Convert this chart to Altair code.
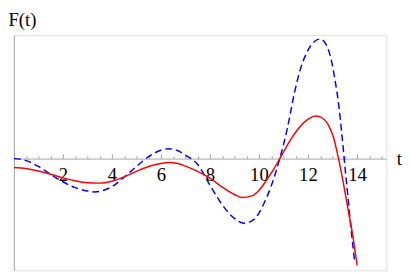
import altair as alt
import pandas as pd

# Solid red curve
t_red = [0, 0.5, 1, 1.5, 2, 2.5, 3, 3.5, 4, 4.5, 5, 5.5, 6, 6.3, 6.7, 7, 7.5, 8,
         8.5, 9, 9.3, 9.7, 10, 10.3, 10.6, 10.85, 11.1, 11.3, 11.56, 11.84, 12.1,
         12.3, 12.5, 12.84, 13.04, 13.24, 13.44, 13.64, 13.84, 14.01]
f_red = [-0.45, -0.5, -0.63, -0.8, -0.98, -1.13, -1.23, -1.25, -1.15, -0.93, -0.65,
         -0.4, -0.25, -0.2, -0.25, -0.38, -0.65, -1.0, -1.45, -1.83, -1.98, -1.9,
         -1.62, -1.12, -0.55, 0.0, 0.55, 0.98, 1.45, 1.85, 2.08, 2.17, 2.13, 1.7, 1.1,
         0.05, -1.2, -2.6, -4.0, -5.45]

# Dashed blue curve
t_blue = [0, 0.5, 1, 1.5, 2, 2.5, 3, 3.3, 3.7, 4, 4.5, 5, 5.5, 6, 6.3, 6.7, 7, 7.5,
          8, 8.5, 9, 9.4, 9.8, 10.2, 10.5, 10.85, 11.17, 11.44, 11.7, 11.97, 12.24,
          12.5, 12.75, 12.95, 13.1, 13.27, 13.38, 13.48, 13.64, 13.77, 13.91]
f_blue = [0.0, -0.1, -0.4, -0.8, -1.18, -1.48, -1.65, -1.7, -1.6, -1.43, -0.95, -0.4,
          0.1, 0.43, 0.5, 0.4, 0.18, -0.3, -1.35, -2.35, -3.05, -3.3, -3.1, -2.3,
          -1.4, 0.0, 1.6, 3.3, 4.6, 5.45, 5.95, 6.1, 5.8, 5.05, 4.05, 2.6, 1.3, 0.0,
          -2.05, -3.7, -5.3]

tick_values = [i * 0.5 for i in range(31)]
label_values = [2, 4, 6, 8, 10, 12, 14]
x_domain = [0, 15.2]
y_domain = [-5.7, 6.3]

red = pd.DataFrame({"t": t_red, "F": f_red})
blue = pd.DataFrame({"t": t_blue, "F": f_blue})

FONT = "Liberation Serif"
GREY = "#a6a6a6"

y_enc = alt.Y("F:Q", scale=alt.Scale(domain=y_domain, nice=False, zero=False),
              axis=alt.Axis(title="F(t)", titleAngle=0, titleAlign="left",
                            titleBaseline="alphabetic", titleX=-6, titleY=-10,
                            titleFont=FONT, titleFontSize=19, titleFontWeight="normal",
                            titleColor="black", labels=False, ticks=False,
                            grid=False, domainColor=GREY, domainWidth=1))

x_scale = alt.Scale(domain=x_domain, nice=False, zero=False)

# ticks axis (pointing up into the plot), placed at y = 0
ticks_axis = alt.Axis(orient="top", values=tick_values, labels=False, grid=False,
                      tickColor=GREY, domainColor=GREY,
                      tickSize={"condition": {"test": "datum.value % 2 === 0", "value": 5}, "value": 3},
                      offset={"expr": "-scale('y', 0)"},
                      title="t", titleFont=FONT, titleFontSize=19, titleFontWeight="normal",
                      titleColor="black", titleAlign="left", titleBaseline="middle",
                      titleX=390, titleY=0, titleAngle=0)

# labels axis below the line
labels_axis = alt.Axis(orient="bottom", values=label_values, ticks=False,
                       domain=False, grid=False, labelFont=FONT, labelFontSize=19,
                       labelColor="black", labelBaseline="top", labelPadding=7,
                       offset={"expr": "scale('y', 0) - height"}, title=None)

blue_line = alt.Chart(blue).mark_line(color="#0000ff", strokeWidth=1.5,
                                      strokeDash=[7, 4], interpolate="monotone",
                                      clip=True).encode(
    x=alt.X("t:Q", scale=x_scale, axis=ticks_axis), y=y_enc)

red_line = alt.Chart(red).mark_line(color="#ff0000", strokeWidth=1.5,
                                    interpolate="monotone", clip=True).encode(
    x=alt.X("t:Q", scale=x_scale, axis=labels_axis), y=y_enc)

chart = alt.layer(blue_line, red_line).resolve_axis(x="independent").properties(
    width=380, height=240,
    autosize=alt.AutoSizeParams(type="none"),
    padding={"left": 6, "top": 25, "right": 17, "bottom": 0},
).configure_view(stroke=None).configure_axis(
    labelFont=FONT, titleFont=FONT
).configure(background="white")

chart.save("out.html", embed_options={"renderer": "svg", "actions": False})
